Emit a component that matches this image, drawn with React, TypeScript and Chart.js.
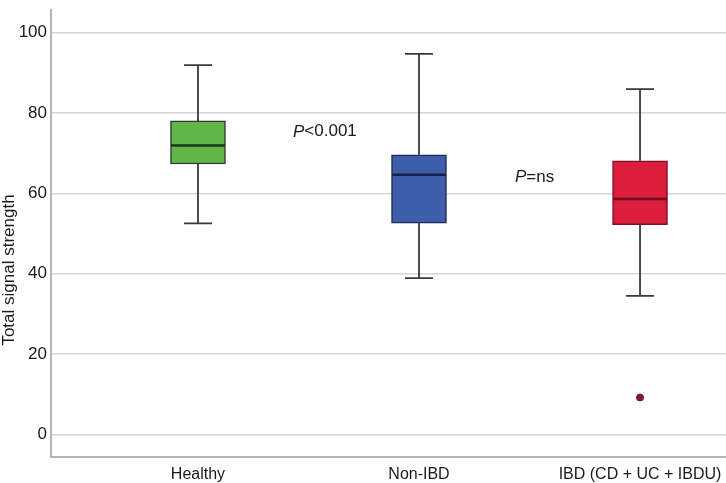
import React, { useEffect, useRef } from "react";
import { Chart, registerables } from "chart.js";

Chart.register(...registerables);

// ---- Data ----
const categories = ["Healthy", "Non-IBD", "IBD (CD + UC + IBDU)"];
const whiskerLow = [52.5, 38.9, 34.5];
const q1 = [67.3, 52.6, 52.2];
const median = [71.9, 64.6, 58.6];
const q3 = [78.0, 69.6, 68.1];
const whiskerHigh = [91.9, 94.7, 85.9];
const outlierCategory = [2];
const outlierValue = [9.2];
const yTicks = [0, 20, 40, 60, 80, 100];
const annotationTexts = [
  ["P", "<0.001"],
  ["P", "=ns"],
];
const annotationX = [0.43, 1.434];
const annotationY = [75.3, 64.1];

// ---- Styles ----
const fillColors = ["#62b548", "#3e5ea9", "#dc1d3b"];
const borderColors = ["#2f3a2a", "#1f2c55", "#7a1424"];
const medianColors = ["#1d3314", "#16214a", "#6e0f1e"];
const FONT = "Arial, 'Liberation Sans', sans-serif";

export default function App() {
  const ref = useRef<HTMLCanvasElement | null>(null);

  useEffect(() => {
    if (!ref.current) return;

    const boxPlugin = {
      id: "boxWhiskers",
      beforeDatasetsDraw(chart: any) {
        const { ctx, scales } = chart;
        const xs = scales.x;
        const ys = scales.y;
        ctx.save();
        ctx.strokeStyle = "#3a3a3a";
        ctx.lineWidth = 1.8;
        categories.forEach((_, i) => {
          const px = xs.getPixelForValue(i);
          const yl = ys.getPixelForValue(whiskerLow[i]);
          const yh = ys.getPixelForValue(whiskerHigh[i]);
          const y1 = ys.getPixelForValue(q1[i]);
          const y3 = ys.getPixelForValue(q3[i]);
          ctx.beginPath();
          ctx.moveTo(px, yl);
          ctx.lineTo(px, y1);
          ctx.moveTo(px, y3);
          ctx.lineTo(px, yh);
          ctx.moveTo(px - 14, yl);
          ctx.lineTo(px + 14, yl);
          ctx.moveTo(px - 14, yh);
          ctx.lineTo(px + 14, yh);
          ctx.stroke();
        });
        ctx.restore();
      },
      afterDatasetsDraw(chart: any) {
        const { ctx, scales } = chart;
        const xs = scales.x;
        const ys = scales.y;
        ctx.save();
        ctx.lineWidth = 2.5;
        categories.forEach((_, i) => {
          const px = xs.getPixelForValue(i);
          const ym = ys.getPixelForValue(median[i]);
          ctx.strokeStyle = medianColors[i];
          ctx.beginPath();
          ctx.moveTo(px - 27, ym);
          ctx.lineTo(px + 27, ym);
          ctx.stroke();
        });
        ctx.restore();
      },
      afterDraw(chart: any) {
        const { ctx, scales } = chart;
        const xs = scales.x;
        const ys = scales.y;
        ctx.save();
        ctx.fillStyle = "#1a1a1a";
        ctx.textBaseline = "middle";
        ctx.textAlign = "left";
        annotationTexts.forEach((parts, i) => {
          let px = xs.getPixelForValue(annotationX[i]);
          const py = ys.getPixelForValue(annotationY[i]);
          ctx.font = `italic 17px ${FONT}`;
          ctx.fillText(parts[0], px, py);
          px += ctx.measureText(parts[0]).width;
          ctx.font = `17px ${FONT}`;
          ctx.fillText(parts[1], px, py);
        });
        // y axis title
        ctx.font = `17px ${FONT}`;
        ctx.textAlign = "center";
        ctx.translate(9, 270);
        ctx.rotate(-Math.PI / 2);
        ctx.fillText("Total signal strength", 0, 0);
        ctx.restore();
      },
    };

    const chart = new Chart(ref.current, {
      type: "bar",
      data: {
        datasets: [
          {
            type: "bar",
            data: categories.map((_, i) => ({ x: i, y: [q1[i], q3[i]] })) as any,
            backgroundColor: fillColors,
            borderColor: borderColors,
            borderWidth: 1.5,
            borderSkipped: false,
            barThickness: 55,
          } as any,
          {
            type: "scatter",
            data: outlierCategory.map((c, i) => ({ x: c, y: outlierValue[i] })),
            backgroundColor: "#8e1537",
            borderColor: "#6a0f28",
            borderWidth: 1,
            pointRadius: 3.5,
          } as any,
        ],
      },
      plugins: [boxPlugin],
      options: {
        animation: false,
        responsive: false,
        maintainAspectRatio: false,
        layout: { autoPadding: false, padding: { top: 10, left: 0, right: 0, bottom: 0 } },
        plugins: {
          legend: { display: false },
          tooltip: { enabled: false },
        },
        scales: {
          x: {
            type: "linear",
            offset: false,
            min: -0.665,
            max: 2.389,
            afterBuildTicks: (s: any) => {
              s.ticks = categories.map((_, i) => ({ value: i }));
            },
            afterFit: (s: any) => {
              s.height = 26;
              s.paddingLeft = 0;
              s.paddingRight = 0;
            },
            ticks: {
              callback: (v: any) => categories[v as number] ?? "",
              font: { family: FONT, size: 16 },
              color: "#1a1a1a",
              padding: 8,
              maxRotation: 0,
              autoSkip: false,
            },
            grid: { display: false, drawTicks: false },
            border: { display: true, color: "#b4b4b4", width: 2 },
          },
          y: {
            type: "linear",
            min: -5.6,
            max: 105.6,
            afterBuildTicks: (s: any) => {
              s.ticks = yTicks.map((v) => ({ value: v }));
            },
            afterFit: (s: any) => {
              s.width = 51;
              s.paddingTop = 0;
              s.paddingBottom = 0;
            },
            ticks: {
              font: { family: FONT, size: 17 },
              color: "#1a1a1a",
              padding: 4,
            },
            grid: { color: "#d6d6d6", lineWidth: 1.5, drawTicks: false },
            border: { display: true, color: "#b4b4b4", width: 2 },
          },
        },
      } as any,
    });

    return () => chart.destroy();
  }, []);

  return (
    <div style={{ position: "fixed", left: 0, top: 0, width: 726, height: 483, background: "#fff" }}>
      <canvas ref={ref} width={726} height={483} />
    </div>
  );
}
